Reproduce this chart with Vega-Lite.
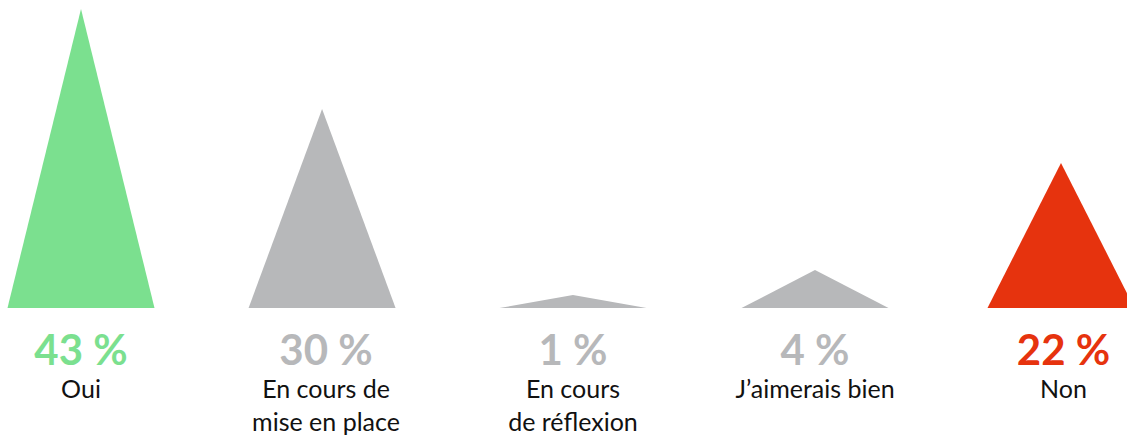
{
  "$schema": "https://vega.github.io/schema/vega-lite/v6.json",
  "width": 1127,
  "height": 435,
  "padding": 0,
  "autosize": {"type": "none"},
  "background": "white",
  "config": {"view": {"stroke": null}},
  "datasets": {
    "tri": [
      {"cat": "Oui", "x": -0.3, "y": 0},
      {"cat": "Oui", "x": 0, "y": 299},
      {"cat": "Oui", "x": 0.3, "y": 0},
      {"cat": "En cours de mise en place", "x": 0.684, "y": 0},
      {"cat": "En cours de mise en place", "x": 0.984, "y": 199},
      {"cat": "En cours de mise en place", "x": 1.284, "y": 0},
      {"cat": "En cours de réflexion", "x": 1.708, "y": 0},
      {"cat": "En cours de réflexion", "x": 2.008, "y": 13},
      {"cat": "En cours de réflexion", "x": 2.308, "y": 0},
      {"cat": "J'aimerais bien", "x": 2.696, "y": 0},
      {"cat": "J'aimerais bien", "x": 2.996, "y": 38},
      {"cat": "J'aimerais bien", "x": 3.296, "y": 0},
      {"cat": "Non", "x": 3.7, "y": 0},
      {"cat": "Non", "x": 4.0, "y": 145},
      {"cat": "Non", "x": 4.3, "y": 0}
    ],
    "labels": [
      {"cat": "Oui", "x": 0, "pct": "43 %", "label": ["Oui"]},
      {"cat": "En cours de mise en place", "x": 1.0, "pct": "30 %", "label": ["En cours de", "mise en place"]},
      {"cat": "En cours de réflexion", "x": 2.008, "pct": "1 %", "label": ["En cours", "de réflexion"]},
      {"cat": "J'aimerais bien", "x": 2.996, "pct": "4 %", "label": ["J’aimerais bien"]},
      {"cat": "Non", "x": 4.01, "pct": "22 %", "label": ["Non"]}
    ]
  },
  "layer": [
    {
      "data": {"name": "tri"},
      "mark": {"type": "area", "interpolate": "linear"},
      "encoding": {
        "x": {"field": "x", "type": "quantitative", "scale": {"domain": [-0.3306, 4.2694], "nice": false, "zero": false}, "axis": null},
        "y": {"field": "y", "type": "quantitative", "scale": {"domain": [-127, 308], "nice": false, "zero": false}, "axis": null},
        "y2": {"datum": 0},
        "detail": {"field": "cat"},
        "color": {"field": "cat", "type": "nominal", "legend": null,
          "scale": {"domain": ["Oui", "En cours de mise en place", "En cours de réflexion", "J'aimerais bien", "Non"],
                    "range": ["#7be08f", "#b7b8ba", "#b7b8ba", "#b7b8ba", "#e6330e"]}}
      }
    },
    {
      "data": {"name": "labels"},
      "mark": {"type": "text", "font": "Lato", "fontWeight": "bold", "fontSize": 42, "baseline": "alphabetic", "align": "center"},
      "encoding": {
        "x": {"field": "x", "type": "quantitative"},
        "y": {"datum": -57},
        "text": {"field": "pct"},
        "color": {"field": "cat", "type": "nominal", "legend": null}
      }
    },
    {
      "data": {"name": "labels"},
      "mark": {"type": "text", "font": "Lato", "fontSize": 25, "baseline": "alphabetic", "align": "center", "lineHeight": 33, "color": "#111111"},
      "encoding": {
        "x": {"field": "x", "type": "quantitative"},
        "y": {"datum": -90},
        "text": {"field": "label"}
      }
    }
  ]
}
